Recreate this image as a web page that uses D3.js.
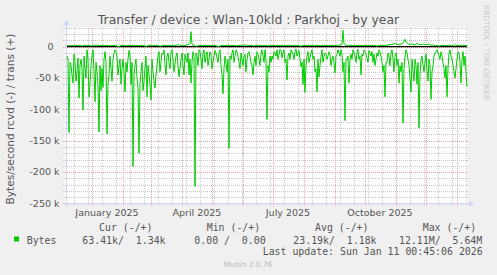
<!DOCTYPE html>
<html><head><meta charset="utf-8">
<script src="https://cdn.jsdelivr.net/npm/d3@7"></script>
<style>html,body{margin:0;padding:0;background:#F0F0F0;} svg{display:block;} text{white-space:pre;}</style>
</head><body>
<svg id="c" width="497" height="275"></svg>
<script>
// ---- data (k bytes/second), one sample per day starting 2024-12-07 ----
const startDate = new Date(2024, 11, 7, 0, 45, 6);
const endDate = new Date(2026, 0, 11, 0, 45, 6);
const stepDays = 1;
const rcvdK = [
15,20,137,25,30,45,58,12,25,55,40,18,82,30,20,35,101,15,35,50,5,20,80,60,30,15,5,40,88,25,40,60,136,30,70,35,65,20,8,25,
139,60,45,15,35,55,20,10,5,8,15,45,30,20,60,35,20,40,72,25,40,20,6,15,60,25,191,45,30,20,50,65,170,60,40,25,70,55,35,15,
80,30,45,60,85,20,40,55,66,45,30,15,8,40,25,10,12,5,30,45,15,10,25,35,8,5,20,40,28,15,10,30,48,35,20,10,30,45,12,20,
25,10,45,20,58,25,8,15,223,10,15,30,5,8,20,35,10,5,25,15,8,30,20,8,12,35,25,15,6,10,18,25,10,5,30,45,75,35,15,25,
40,20,162,15,20,10,5,25,15,5,8,15,25,35,10,20,30,15,12,40,20,10,8,15,25,30,45,25,15,30,8,12,20,30,10,5,15,25,5,20,
116,30,40,15,25,15,20,8,10,15,5,20,12,4,6,18,10,5,25,20,53,15,10,20,5,8,12,20,8,4,15,10,6,20,32,25,60,20,73,30,
15,8,25,18,10,5,20,15,40,35,72,20,48,30,15,5,25,15,10,12,20,15,8,12,30,20,15,25,42,15,12,5,10,15,5,12,40,25,118,20,
20,15,58,20,12,20,5,10,15,25,8,4,20,15,45,12,15,5,8,12,18,25,6,10,15,8,25,12,30,20,10,15,5,8,15,25,40,30,80,25,
25,10,15,30,10,5,20,40,15,10,30,20,58,30,40,25,122,35,15,5,10,20,30,50,72,20,38,55,20,30,60,25,130,45,21,15,30,40,26,12,
40,55,20,30,84,40,30,15,10,8,5,10,15,20,8,15,26,35,50,30,80,35,10,5,15,20,30,40,50,35,20,8,10,25,58,20,8,30,15,40,64];
const transK = [
2,1.5,2,2.5,1.5,2,2,1,2.5,2,2,1.5,2,2.5,1.5,1,2,2,2.5,2,2,1.5,2,2,1,1.5,2,2.5,2.5,2,3,2,2,1.5,2,2,2.5,2,2,1.5,
2,2.5,2,1.5,1.5,2,2,2,2,1.5,1,0.5,0.5,1,2,2.5,2,1.5,2,2,1.5,2,2,2.5,2,2,2.5,2,2,1.5,2,2,1.5,2,2,2.5,2,1.5,1,1,
1,1.5,2,2.5,2,1.5,2,2,2.5,2,2,1.5,1.5,1,1,1.5,2,2.5,2,2,2,1.5,2,2,1.5,2,2,2.5,2,2,2.5,3,3,2.5,2,1.5,2,2,2,2.5,
3,3.5,4,5,24,4,3,2,1,1,1,1.5,2,2.5,2,1.5,2,2,2,2.5,1.5,2,2,1.5,2.5,2,2,2,2,1.5,1,0.5,0.5,1,2,2.5,2,2,2,1.5,
2,2.5,2,1.5,2.5,2,2,2,2,1.5,1.5,2,2,2.5,2,2,2,2.5,3,2.5,2,1.5,2,2,2,2.5,1.5,1,2,2,2,2.5,2.5,2,2,1.5,2,2,2,2.5,
2,1.5,1.5,2,2,2.5,2,2,2,1.5,2.5,2,2,2,2,2.5,2,1.5,1.5,2,2,2.5,2,2,2,1.5,2,2,2.5,2,2,1.5,2,1,1,1.5,2,2.5,2,2,
2,2.5,2,1.5,2,2,2,2.5,2.5,2,2,1.5,2,2,1.5,2,2,2.5,2,2,2,1.5,2,2,2.5,2,2,1.5,2,2,2,2.5,2,2.5,3,4,26,5,3,2.5,
2,1.5,2,2.5,2,2,1.5,2,2,2.5,2,2,2.5,2,2,1.5,2,2,2,2.5,2,2,2,1.5,2.5,2,2,2,2,1.5,1,1.5,2,2.5,2,2,2,2.5,2.5,2,
2,2.5,3,4,3,3.5,4,5,5,4,4,3,3,3.5,4,5,6,8,12,7,6,5,4,3,5,4,4,3,3,4,5,4,4,3.5,3,3,4,4.5,3,3.5,
3,4,4,3,2,2.5,3,2,2,1.5,2,1.5,1,1.5,2,2,2,2.5,2,1.5,2,2,2.5,2,2,1.5,2,2.5,3,2.5,2,2,2,1.5,2,2.5,2,2,2,1.5,2];
const yTickValues = [0,-50,-100,-150,-200,-250];
const yTickLabels = ["0","-50 k","-100 k","-150 k","-200 k","-250 k"];
const monthLabels = ["January 2025","April 2025","July 2025","October 2025"];
const monthLabelDates = [new Date(2025,0,16),new Date(2025,3,16),new Date(2025,6,16),new Date(2025,9,16)];
const legendHeaders = ["Cur (-/+)","Min (-/+)","Avg (-/+)","Max (-/+)"];
const legendValues = ["63.41k/  1.34k","0.00 /  0.00","23.19k/  1.18k","12.11M/  5.64M"];
const seriesName = "Bytes";
const lastUpdate = "Last update: Sun Jan 11 00:45:06 2026";

// ---- layout ----
const svg = d3.select("#c");
const L = 67, R = 467, T = 27.9, B = 203.4;
const x = d3.scaleTime().domain([startDate, endDate]).range([L, R]);
const y = d3.scaleLinear().domain([-250, 30]).range([B, T]);
const green = "#00CC00";
const fontCol = "#555";

svg.append("rect").attr("width",497).attr("height",275).attr("fill","#F0F0F0");
svg.append("rect").attr("x",65).attr("y",T-0.5).attr("width",468-65).attr("height",B-T+1).attr("fill","#fff");

// minor horizontal grid
const minorY = d3.range(-240, 31, 10).filter(v => v % 50 !== 0);
svg.append("g").selectAll("line").data(minorY).join("line")
  .attr("x1",63).attr("x2",468).attr("y1",d=>Math.round(y(d))+0.5).attr("y2",d=>Math.round(y(d))+0.5)
  .attr("stroke","#c8c8c8").attr("stroke-dasharray","1,1");
// minor vertical grid (every two weeks)
const minorX = d3.timeDay.every(1).range(new Date(2024,11,13,12), endDate).filter((d,i)=>i%14===0);
svg.append("g").selectAll("line").data(minorX).join("line")
  .attr("x1",d=>Math.round(x(d))+0.5).attr("x2",d=>Math.round(x(d))+0.5).attr("y1",T).attr("y2",B+2)
  .attr("stroke","#c8c8c8").attr("stroke-dasharray","1,1");
// major horizontal grid
svg.append("g").selectAll("line").data(yTickValues).join("line")
  .attr("x1",63).attr("x2",468).attr("y1",d=>Math.round(y(d))+0.5).attr("y2",d=>Math.round(y(d))+0.5)
  .attr("stroke","#e6a4a4").attr("stroke-dasharray","1,1");
// major vertical grid (months)
const months = d3.timeMonth.range(new Date(2025,0,1), endDate);
svg.append("g").selectAll("line").data(months).join("line")
  .attr("x1",d=>Math.round(x(d))+0.5).attr("x2",d=>Math.round(x(d))+0.5).attr("y1",T).attr("y2",B+3)
  .attr("stroke","#e6a4a4").attr("stroke-dasharray","1,1");

// axes
const axisCol = "#CFD6F8";
svg.append("line").attr("x1",63).attr("x2",469).attr("y1",B+0.5).attr("y2",B+0.5).attr("stroke",axisCol);
svg.append("line").attr("x1",66.5).attr("x2",66.5).attr("y1",B+3).attr("y2",24).attr("stroke",axisCol);
svg.append("path").attr("d",`M469,${B-2.5}L474,${B+0.5}L469,${B+3.5}Z`).attr("fill",axisCol);
svg.append("path").attr("d",`M63.5,25L66.5,20L69.5,25Z`).attr("fill",axisCol);

// data lines
const dates = rcvdK.map((v,i)=>d3.timeDay.offset(startDate, i*stepDays));
const line = d3.line().x((d,i)=>x(dates[i])).y(d=>y(d));
svg.append("path").datum(rcvdK.map(v=>-v)).attr("d",line).attr("fill","none").attr("stroke",green).attr("stroke-width",1);
// zero rule
svg.append("line").attr("x1",L).attr("x2",R).attr("y1",y(0)).attr("y2",y(0)).attr("stroke","#000").attr("stroke-width",1.3);
svg.append("path").datum(transK).attr("d",line).attr("fill","none").attr("stroke",green).attr("stroke-width",1);

// y tick labels
svg.append("g").selectAll("text").data(yTickValues).join("text")
  .attr("x",(d,i)=> i===0 ? 53.5 : 59.5).attr("y",d=>y(d)+3.4).attr("text-anchor","end")
  .attr("font-family","DejaVu Sans").attr("font-size",9.5).attr("fill",fontCol)
  .text((d,i)=>yTickLabels[i]);
// x labels
svg.append("g").selectAll("text").data(monthLabels).join("text")
  .attr("x",(d,i)=>x(monthLabelDates[i])).attr("y",215.5).attr("text-anchor","middle")
  .attr("font-family","DejaVu Sans").attr("font-size",9.5).attr("fill",fontCol).text(d=>d);

// title
svg.append("text").attr("x",248.5).attr("y",24).attr("text-anchor","middle")
  .attr("font-family","DejaVu Sans").attr("font-size",12.4).attr("fill",fontCol)
  .text("Transfer / device : Wlan-10kld : Parkhoj - by year");
// y axis title
svg.append("text").attr("transform","translate(14,119) rotate(-90)").attr("text-anchor","middle")
  .attr("font-family","DejaVu Sans").attr("font-size",10.6).attr("fill",fontCol)
  .text("Bytes/second rcvd (-) / trans (+)");
// rrdtool watermark
svg.append("text").attr("transform","translate(484,5) rotate(90)").attr("text-anchor","start")
  .attr("font-family","DejaVu Sans").attr("font-size",7.4).attr("fill","#c8c8c8")
  .text("RRDTOOL / TOBI OETIKER");

// legend
const mono = "DejaVu Sans Mono", ms = 9.9;
const hx = [99, 206.7, 315, 422.7];
const vx = [82.3, 194.3, 293.3, 399];
svg.append("g").selectAll("text").data(legendHeaders).join("text")
  .attr("x",(d,i)=>hx[i]).attr("y",231).attr("font-family",mono).attr("font-size",ms).attr("fill",fontCol).text(d=>d);
svg.append("g").selectAll("text").data(legendValues).join("text")
  .attr("x",(d,i)=>vx[i]).attr("y",243.5).attr("font-family",mono).attr("font-size",ms).attr("fill",fontCol).text(d=>d);
svg.append("rect").attr("x",14).attr("y",236.5).attr("width",5).attr("height",5).attr("fill",green);
svg.append("text").attr("x",26.7).attr("y",243.5).attr("font-family",mono).attr("font-size",ms).attr("fill",fontCol).text(seriesName);
svg.append("text").attr("x",482.7).attr("y",255).attr("text-anchor","end").attr("font-family",mono).attr("font-size",ms).attr("fill",fontCol).text(lastUpdate);
svg.append("text").attr("x",248).attr("y",267).attr("text-anchor","middle").attr("font-family","DejaVu Sans").attr("font-size",7.4).attr("fill","#bbb").text("Munin 2.0.76");
</script>
</body></html>
